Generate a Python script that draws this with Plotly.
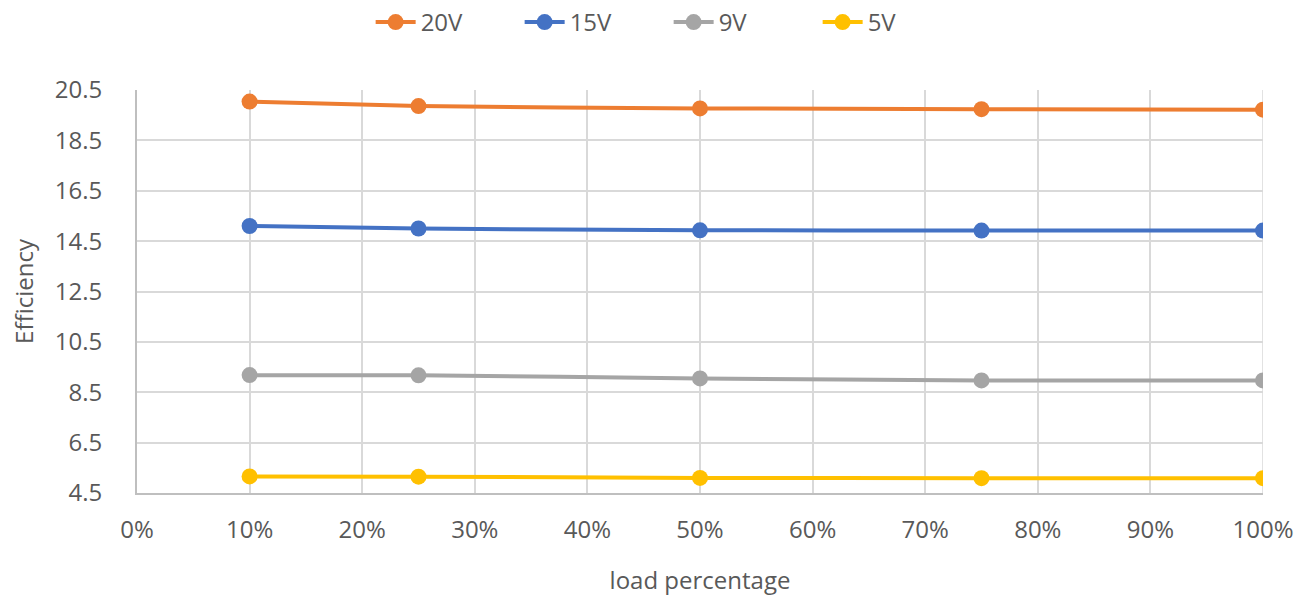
import plotly.graph_objects as go

# Load points (fraction of full load) and efficiency readings per output voltage
load = [0.10, 0.25, 0.50, 0.75, 1.00]
eff_20v = [20.04, 19.86, 19.77, 19.74, 19.72]
eff_15v = [15.10, 15.00, 14.93, 14.92, 14.92]
eff_9v = [9.18, 9.17, 9.05, 8.97, 8.97]
eff_5v = [5.16, 5.15, 5.10, 5.09, 5.09]

series = [
    ("20V", eff_20v, "#ED7D31"),
    ("15V", eff_15v, "#4472C4"),
    ("9V", eff_9v, "#A5A5A5"),
    ("5V", eff_5v, "#FFC000"),
]

y_ticks = [4.5, 6.5, 8.5, 10.5, 12.5, 14.5, 16.5, 18.5, 20.5]
x_ticks = [i / 10 for i in range(11)]

font_family = "Open Sans, sans-serif"
text_color = "#595959"
grid_color = "#D9D9D9"

fig = go.Figure()
for name, vals, color in series:
    fig.add_trace(go.Scatter(
        x=load, y=vals, name=name, mode="lines+markers",
        line=dict(color=color, width=4, shape="spline", smoothing=0.5),
        marker=dict(color=color, size=16),
    ))

fig.update_layout(
    width=1313, height=603,
    margin=dict(l=137, r=50, t=90, b=110),
    paper_bgcolor="white", plot_bgcolor="white",
    font=dict(family=font_family, size=24, color=text_color),
    showlegend=True,
    legend=dict(orientation="h", x=0.2075, xanchor="left", y=1.0,
                yref="container", yanchor="top",
                font=dict(size=24, color=text_color),
                itemwidth=40, entrywidth=94, entrywidthmode="pixels",
                tracegroupgap=0),
    xaxis=dict(
        range=[0, 1], tickvals=x_ticks, tickformat=".0%",
        showgrid=True, gridcolor=grid_color, gridwidth=1.5,
        showline=True, linecolor="#BFBFBF", linewidth=2,
        zeroline=False, ticks="", ticklabelstandoff=14,
        tickfont=dict(size=24, color=text_color),
        title=dict(text="load percentage", standoff=28,
                   font=dict(size=24, color=text_color)),
    ),
    yaxis=dict(
        range=[4.5, 20.5], tickvals=y_ticks, tickformat=".1f",
        showgrid=True, gridcolor=grid_color, gridwidth=1.5,
        showline=True, linecolor="#BFBFBF", linewidth=2,
        zeroline=False, ticks="", ticklabelstandoff=28,
        tickfont=dict(size=24, color=text_color),
        title=dict(text="Efficiency", standoff=14,
                   font=dict(size=24, color=text_color)),
    ),
)

# Right-hand border of the plot area drawn as the final vertical gridline
fig.add_shape(type="line", xref="x", yref="paper", x0=1, x1=1, y0=0, y1=1,
              line=dict(color=grid_color, width=1.5), layer="below")

fig.write_html("out.html")
